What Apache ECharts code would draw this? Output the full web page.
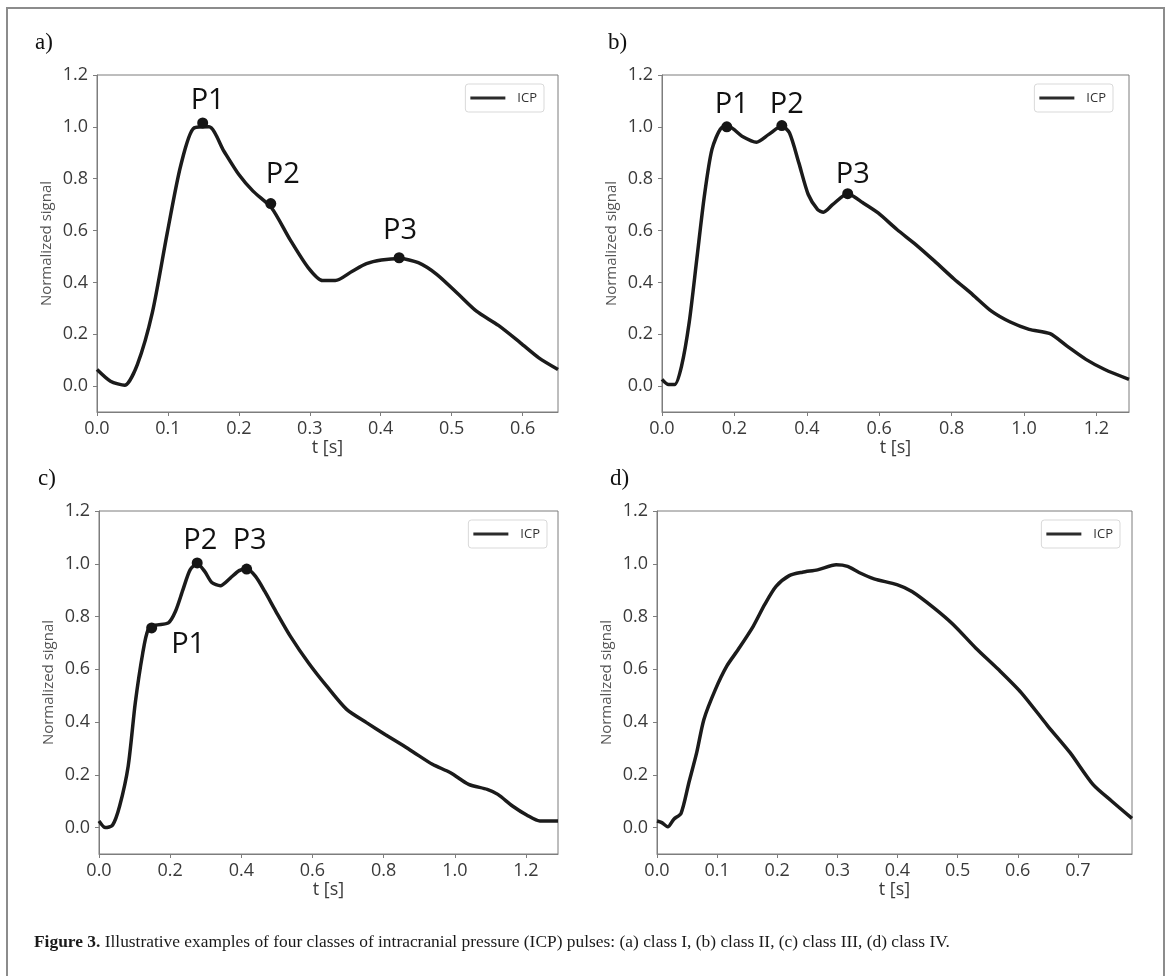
<!DOCTYPE html>
<html>
<head>
<meta charset="utf-8">
<script src="https://cdn.jsdelivr.net/npm/echarts@6/dist/echarts.min.js"></script>
<style>
  html, body { margin: 0; padding: 0; background: #ffffff; }
  #chart { width: 1170px; height: 976px; }
</style>
</head>
<body>
<div id="chart"></div>
<script>
// class I pulse
const tA = [0, 0.019, 0.039, 0.057, 0.078, 0.099, 0.118, 0.137, 0.158, 0.179, 0.2, 0.22, 0.246, 0.272, 0.298, 0.318, 0.336, 0.36, 0.38, 0.401, 0.427, 0.453, 0.479, 0.51, 0.535, 0.566, 0.597, 0.623, 0.65];
const icpA = [0.064, 0.019, 0.003, 0.084, 0.283, 0.59, 0.85, 0.996, 1.0, 0.906, 0.816, 0.752, 0.688, 0.566, 0.456, 0.407, 0.407, 0.443, 0.472, 0.486, 0.492, 0.476, 0.431, 0.353, 0.289, 0.234, 0.167, 0.109, 0.064];
const peakTA = [0.149, 0.245, 0.426];
const peakVA = [1.015, 0.704, 0.495];

// class II pulse
const tB = [0, 0.018, 0.035, 0.054, 0.075, 0.096, 0.117, 0.138, 0.164, 0.185, 0.221, 0.261, 0.294, 0.331, 0.352, 0.378, 0.404, 0.43, 0.446, 0.472, 0.513, 0.555, 0.597, 0.649, 0.701, 0.753, 0.806, 0.858, 0.91, 0.962, 1.014, 1.072, 1.119, 1.171, 1.223, 1.29];
const icpB = [0.026, 0.006, 0.006, 0.077, 0.244, 0.488, 0.733, 0.913, 0.996, 1.0, 0.964, 0.941, 0.97, 1.003, 0.977, 0.861, 0.739, 0.681, 0.671, 0.701, 0.742, 0.707, 0.668, 0.604, 0.546, 0.482, 0.414, 0.353, 0.289, 0.247, 0.219, 0.202, 0.154, 0.103, 0.064, 0.026];
const peakTB = [0.179, 0.331, 0.513];
const peakVB = [1.0, 1.005, 0.742];

// class III pulse
const tC = [0, 0.018, 0.038, 0.058, 0.082, 0.102, 0.123, 0.138, 0.159, 0.195, 0.215, 0.236, 0.256, 0.276, 0.297, 0.317, 0.341, 0.369, 0.394, 0.415, 0.44, 0.466, 0.497, 0.538, 0.589, 0.64, 0.696, 0.753, 0.804, 0.855, 0.886, 0.937, 0.988, 1.039, 1.091, 1.121, 1.162, 1.203, 1.239, 1.29];
const icpC = [0.025, 0.0, 0.009, 0.082, 0.233, 0.473, 0.662, 0.75, 0.767, 0.776, 0.82, 0.902, 0.977, 1.0, 0.971, 0.929, 0.917, 0.946, 0.974, 0.981, 0.952, 0.895, 0.82, 0.725, 0.624, 0.536, 0.448, 0.397, 0.353, 0.311, 0.284, 0.24, 0.208, 0.164, 0.145, 0.126, 0.082, 0.047, 0.025, 0.025];
const peakTC = [0.148, 0.276, 0.415];
const peakVC = [0.757, 1.003, 0.98];

// class IV pulse
const tD = [0, 0.008, 0.018, 0.028, 0.04, 0.053, 0.066, 0.078, 0.097, 0.116, 0.135, 0.16, 0.179, 0.198, 0.22, 0.242, 0.267, 0.298, 0.317, 0.336, 0.361, 0.399, 0.424, 0.461, 0.493, 0.53, 0.568, 0.606, 0.65, 0.687, 0.725, 0.756, 0.79];
const icpD = [0.025, 0.019, 0.003, 0.032, 0.054, 0.17, 0.284, 0.41, 0.523, 0.612, 0.675, 0.763, 0.845, 0.914, 0.955, 0.968, 0.977, 0.996, 0.99, 0.967, 0.943, 0.921, 0.895, 0.832, 0.769, 0.681, 0.599, 0.511, 0.385, 0.284, 0.164, 0.101, 0.035];

const peakNames = ["P1", "P2", "P3"];
const yTicks = [0, 0.2, 0.4, 0.6, 0.8, 1.0, 1.2];
const xTicksShort = [0, 0.1, 0.2, 0.3, 0.4, 0.5, 0.6];
const xTicksLong = [0, 0.2, 0.4, 0.6, 0.8, 1.0, 1.2];
const xTicksD = [0, 0.1, 0.2, 0.3, 0.4, 0.5, 0.6, 0.7];
const xMax = [0.65, 1.29, 1.29, 0.79];
const panelLetters = ["a)", "b)", "c)", "d)"];

const FONT = "'Open Sans', 'DejaVu Sans', sans-serif";
const SERIF = "'Liberation Serif', 'DejaVu Serif', serif";
const AXIS_GRAY = "#7d7d7d";

const chart = echarts.init(document.getElementById("chart"), null, { renderer: "canvas" });

const grids = [
  { left: 97, top: 75, width: 461, height: 337 },
  { left: 662, top: 75, width: 467, height: 337 },
  { left: 99, top: 511, width: 459, height: 343 },
  { left: 657, top: 511, width: 475, height: 343 },
];

const legendPos = [
  { right: 626, top: 84 },
  { right: 57, top: 84 },
  { right: 623, top: 520 },
  { right: 50, top: 520 },
];

// label placement for P1..P3 in each panel
const peakLabelStyle = [
  [{ position: "top", offset: [5, 3] }, { position: "top", offset: [12, -4] }, { position: "top", offset: [1, -2] }],
  [{ position: "top", offset: [5, 3] }, { position: "top", offset: [5, 4] }, { position: "top", offset: [5, 6] }],
  [{ position: "right", offset: [9, 17] }, { position: "top", offset: [3, 3] }, { position: "top", offset: [3, -3] }],
];

function xAxis(i, ticks) {
  return {
    type: "value",
    gridIndex: i,
    min: 0,
    max: xMax[i],
    name: "t [s]",
    nameLocation: "middle",
    nameGap: 22,
    nameTextStyle: { color: "#3a3a3a", fontSize: 18, fontFamily: FONT },
    axisLine: { show: true, onZero: false, lineStyle: { color: AXIS_GRAY, width: 1 } },
    axisTick: { show: true, inside: false, length: 4, customValues: ticks, lineStyle: { color: AXIS_GRAY } },
    axisLabel: {
      customValues: ticks,
      margin: 8,
      color: "#3a3a3a",
      fontSize: 18,
      fontFamily: FONT,
      formatter: (v) => v.toFixed(1),
    },
    splitLine: { show: false },
  };
}

function yAxis(i) {
  return {
    type: "value",
    gridIndex: i,
    min: -0.1,
    max: 1.2,
    name: "Normalized signal",
    nameLocation: "middle",
    nameGap: 43,
    nameTextStyle: { color: "#555555", fontSize: 15, fontFamily: FONT },
    axisLine: { show: true, lineStyle: { color: AXIS_GRAY, width: 1 } },
    axisTick: { show: true, inside: false, length: 4, customValues: yTicks, lineStyle: { color: AXIS_GRAY } },
    axisLabel: {
      customValues: yTicks,
      margin: 9,
      color: "#3a3a3a",
      fontSize: 18,
      fontFamily: FONT,
      formatter: (v) => v.toFixed(1),
    },
    splitLine: { show: false },
  };
}

function icpLine(i, t, v) {
  return {
    name: "ICP",
    type: "line",
    xAxisIndex: i,
    yAxisIndex: i,
    data: t.map((x, k) => [x, v[k]]),
    symbol: "none",
    smooth: 0.25,
    clip: true,
    lineStyle: { color: "#1b1b1b", width: 3.5 },
    itemStyle: { color: "#1b1b1b" },
    z: 3,
  };
}

function peaks(i, t, v) {
  return {
    name: "peaks",
    type: "scatter",
    xAxisIndex: i,
    yAxisIndex: i,
    symbolSize: 11,
    itemStyle: { color: "#151515", opacity: 1 },
    z: 4,
    data: t.map((x, k) => ({
      value: [x, v[k]],
      label: {
        show: true,
        formatter: peakNames[k],
        position: peakLabelStyle[i][k].position,
        offset: peakLabelStyle[i][k].offset,
        distance: 5,
        color: "#111111",
        fontSize: 29,
        fontFamily: FONT,
      },
    })),
  };
}

const legends = legendPos.map((p) => ({
  data: ["ICP"],
  right: p.right,
  top: p.top,
  orient: "horizontal",
  icon: "rect",
  backgroundColor: "#ffffff",
  borderColor: "#d9d9d9",
  borderWidth: 1,
  borderRadius: 3,
  padding: [6, 7, 6, 5],
  itemWidth: 35,
  itemHeight: 3,
  selectedMode: false,
  itemStyle: { color: "#2b2b2b", borderWidth: 0 },
  textStyle: { color: "#333333", fontSize: 13, fontFamily: FONT, lineHeight: 16, padding: [0, 0, 0, 7] },
}));

const graphics = [
  {
    type: "rect",
    shape: { x: 7, y: 8, width: 1157, height: 990 },
    style: { fill: "none", stroke: "#8c8c8c", lineWidth: 2 },
    silent: true,
  },
  ...panelLetters.map((txt, k) => ({
    type: "text",
    left: [35, 608, 38, 610][k],
    top: [31, 31, 467, 467][k],
    style: { text: txt, fill: "#111111", font: "23px " + SERIF },
  })),
  {
    type: "text",
    left: 34,
    top: 934,
    style: {
      text: "{b|Figure 3.} Illustrative examples of four classes of intracranial pressure (ICP) pulses: (a) class I, (b) class II, (c) class III, (d) class IV.",
      fill: "#1a1a1a",
      font: "17.4px " + SERIF,
      rich: {
        b: { fontWeight: "bold", fontSize: 17.4, fontFamily: SERIF, fill: "#1a1a1a" },
      },
    },
  },
];

chart.setOption({
  animation: false,
  backgroundColor: "#ffffff",
  grid: grids.map((g) => ({ ...g, show: true, borderColor: AXIS_GRAY, borderWidth: 1, backgroundColor: "transparent" })),
  legend: legends,
  xAxis: [xAxis(0, xTicksShort), xAxis(1, xTicksLong), xAxis(2, xTicksLong), xAxis(3, xTicksD)],
  yAxis: [yAxis(0), yAxis(1), yAxis(2), yAxis(3)],
  series: [
    icpLine(0, tA, icpA),
    peaks(0, peakTA, peakVA),
    icpLine(1, tB, icpB),
    peaks(1, peakTB, peakVB),
    icpLine(2, tC, icpC),
    peaks(2, peakTC, peakVC),
    icpLine(3, tD, icpD),
  ],
  graphic: graphics,
});
</script>
</body>
</html>
